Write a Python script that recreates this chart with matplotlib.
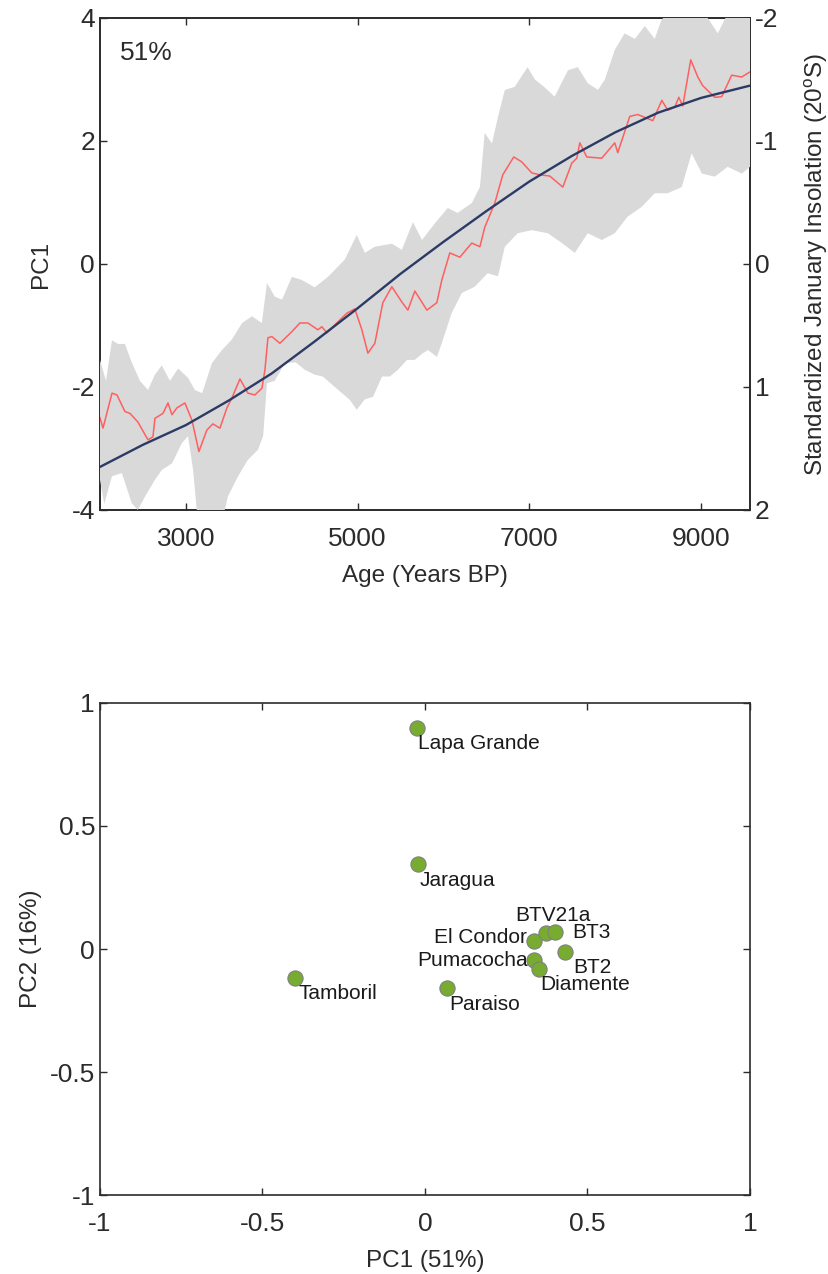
import numpy as np
import matplotlib
matplotlib.use('Agg')
import matplotlib.pyplot as plt

plt.rcParams['font.family'] = ['Liberation Sans', 'DejaVu Sans']
plt.rcParams['mathtext.fontset'] = 'custom'
plt.rcParams['mathtext.rm'] = 'Liberation Sans'
plt.rcParams['axes.unicode_minus'] = False

# --- верхний график: PC1 и инсоляция ---
# огибающие серой полосы (возраст, значение PC1)
band_hi_age = [2000, 2070, 2140, 2210, 2290, 2370, 2465, 2560, 2640, 2720, 2815, 2910, 3025, 3105,
               3190, 3305, 3420, 3535, 3655, 3770, 3885, 3945, 4035, 4120, 4235, 4350, 4500, 4655,
               4850, 4990, 5085, 5200, 5400, 5515, 5645, 5750, 5900, 6050, 6165, 6330, 6425, 6480,
               6565, 6635, 6715, 6830, 6980, 7065, 7180, 7295, 7450, 7565, 7680, 7800, 7880, 7995,
               8110, 8230, 8345, 8460, 8540, 8750, 8985, 9195, 9390, 9570]
band_hi = [-1.56, -1.9, -1.24, -1.3, -1.3, -1.6, -1.9, -2.05, -1.8, -1.65, -1.9, -1.7, -1.85, -2.05,
           -2.1, -1.61, -1.4, -1.23, -0.96, -0.85, -0.96, -0.31, -0.53, -0.58, -0.21, -0.26, -0.38, -0.21,
           0.07, 0.47, 0.18, 0.28, 0.33, 0.23, 0.68, 0.39, 0.66, 0.91, 0.83, 0.99, 1.25, 2.13,
           1.96, 2.39, 2.83, 2.88, 3.2, 3.0, 2.87, 2.72, 3.15, 3.2, 2.94, 2.83, 3.0, 3.48,
           3.75, 3.66, 3.87, 3.66, 3.97, 4.3, 4.2, 3.75, 4.3, 4.4]
band_lo_age = [2000, 2050, 2140, 2255, 2370, 2440, 2525, 2640, 2720, 2840, 2955, 3025, 3085, 3140,
               3280, 3420, 3490, 3605, 3720, 3840, 3900, 3945, 4035, 4155, 4280, 4385, 4500, 4595,
               4735, 4910, 4990, 5085, 5180, 5285, 5375, 5470, 5575, 5665, 5760, 5820, 5925, 5980,
               6095, 6215, 6365, 6515, 6635, 6715, 6865, 7030, 7215, 7380, 7530, 7680, 7845, 7995,
               8145, 8310, 8460, 8610, 8775, 8890, 9010, 9160, 9310, 9475, 9570]
band_lo = [-3.51, -3.9, -3.45, -3.4, -3.89, -4.0, -3.78, -3.51, -3.35, -3.24, -2.91, -2.8, -3.35, -4.2,
           -4.4, -4.2, -3.78, -3.46, -3.19, -3.02, -2.8, -1.94, -1.9, -1.61, -1.6, -1.72, -1.8, -1.83,
           -2.0, -2.21, -2.37, -2.2, -2.16, -1.83, -1.83, -1.72, -1.56, -1.56, -1.45, -1.4, -1.51, -1.29,
           -0.8, -0.47, -0.37, -0.15, -0.2, 0.28, 0.5, 0.55, 0.5, 0.34, 0.18, 0.5, 0.39, 0.5,
           0.77, 0.93, 1.15, 1.15, 1.25, 1.8, 1.47, 1.42, 1.58, 1.47, 1.58]

# сглаженная кривая PC1 (красная)
pc1_age = [2000, 2035, 2140, 2198, 2291, 2349, 2442, 2559, 2617, 2640, 2733, 2792, 2838, 2896, 2989,
           3071, 3152, 3245, 3315, 3397, 3478, 3536, 3630, 3723, 3804, 3886, 3921, 3956, 4002, 4095,
           4235, 4328, 4421, 4538, 4584, 4642, 4735, 4875, 4968, 5050, 5120, 5201, 5294, 5399, 5516,
           5586, 5667, 5807, 5923, 5981, 6074, 6191, 6330, 6424, 6482, 6598, 6691, 6819, 6912, 7029,
           7122, 7238, 7390, 7495, 7553, 7588, 7669, 7844, 7995, 8030, 8170, 8263, 8438, 8543, 8613,
           8694, 8741, 8787, 8880, 8962, 9019, 9159, 9240, 9357, 9473, 9590]
pc1 = [-2.5, -2.67, -2.1, -2.13, -2.4, -2.43, -2.57, -2.86, -2.81, -2.51, -2.43, -2.26, -2.45, -2.34, -2.26,
       -2.54, -3.05, -2.7, -2.6, -2.67, -2.34, -2.18, -1.87, -2.1, -2.13, -2.02, -1.72, -1.2, -1.18, -1.29,
       -1.1, -0.96, -0.96, -1.07, -1.02, -1.12, -0.99, -0.8, -0.73, -1.07, -1.45, -1.29, -0.63, -0.37, -0.62,
       -0.75, -0.44, -0.75, -0.63, -0.26, 0.18, 0.11, 0.34, 0.28, 0.6, 0.99, 1.45, 1.74, 1.66, 1.48,
       1.45, 1.43, 1.25, 1.64, 1.72, 1.97, 1.74, 1.72, 1.97, 1.81, 2.4, 2.43, 2.33, 2.66, 2.5,
       2.55, 2.71, 2.57, 3.32, 3.04, 2.9, 2.71, 2.72, 3.07, 3.04, 3.14]

# стандартизованная январская инсоляция 20°S (правая ось)
ins_age = [2000, 2250, 2500, 2750, 3000, 3250, 3500, 3750, 4000, 4500, 5000, 5500, 6000, 6500,
           7000, 7500, 8000, 8500, 9000, 9570]
ins = [1.65, 1.56, 1.47, 1.39, 1.31, 1.21, 1.11, 1.00, 0.89, 0.63, 0.36, 0.08, -0.18, -0.43,
       -0.67, -0.88, -1.07, -1.23, -1.35, -1.45]

# --- нижний график: нагрузки PCA ---
sites = ['Lapa Grande', 'Jaragua', 'Tamboril', 'Paraiso', 'El Condor', 'BTV21a', 'BT3', 'BT2',
         'Pumacocha', 'Diamente']
pc1_load = [-0.025, -0.02, -0.40, 0.068, 0.335, 0.372, 0.40, 0.43, 0.335, 0.35]
pc2_load = [0.90, 0.345, -0.118, -0.159, 0.033, 0.065, 0.069, -0.012, -0.045, -0.08]

# смещения подписей в пикселях
label_off = {'Lapa Grande': (1, -16, 'left'), 'Jaragua': (1, -16, 'left'), 'Tamboril': (4, -15, 'left'),
             'Paraiso': (2, -16, 'left'), 'El Condor': (-7, 3, 'right'), 'BTV21a': (-31, 18, 'left'),
             'BT3': (17, 0, 'left'), 'BT2': (9, -16, 'left'), 'Pumacocha': (-6, 0, 'right'),
             'Diamente': (2, -16, 'left')}

tc = '#2b2b2b'
tick_fs = 19
lab_fs = 17.5

fig = plt.figure(figsize=(8.29, 12.74), dpi=100)

ax = fig.add_axes([0.1206, 0.5997, 0.7841, 0.3862])
ax2 = ax.twinx()
ax.set_zorder(ax2.get_zorder() + 1)
ax.patch.set_visible(False)

ax.fill(np.concatenate([band_hi_age, band_lo_age[::-1]]), np.concatenate([band_hi, band_lo[::-1]]),
        color='#d9d9d9', lw=0, zorder=3)
ax.plot(pc1_age, pc1, color='#ff5f5f', lw=1.1, zorder=4)
ax.plot(ins_age, ins, color='#2c3b66', lw=1.7, zorder=5, transform=ax2.transData)

ax.set_xlim(2000, 9570)
ax.set_ylim(-4, 4)
ax.set_xticks([3000, 5000, 7000, 9000])
ax.set_yticks([-4, -2, 0, 2, 4])
ax2.set_ylim(2, -2)
ax2.set_yticks([-2, -1, 0, 1, 2])

ax.tick_params(direction='in', length=5, top=True, labelsize=tick_fs, colors=tc, width=1)
ax.tick_params(axis='x', pad=12)
ax2.tick_params(direction='in', length=5, labelsize=tick_fs, colors=tc, width=1)
for a in (ax, ax2):
    for s in a.spines.values():
        s.set_color(tc)
        s.set_linewidth(1.2)

ax.set_xlabel('Age (Years BP)', fontsize=lab_fs, color=tc, labelpad=10)
ax.set_ylabel('PC1', fontsize=lab_fs, color=tc, labelpad=14)
ax2.set_ylabel('Standardized January Insolation (20$^{\\mathrm{o}}$S)', fontsize=lab_fs, color=tc, labelpad=17)
ax.text(0.031, 0.929, '51%', transform=ax.transAxes, fontsize=tick_fs, color=tc, va='center', zorder=6)

# нижний график
bx = fig.add_axes([0.1206, 0.0620, 0.7841, 0.3862])
bx.scatter(pc1_load, pc2_load, s=120, c='#77ac30', edgecolors='#808080', linewidths=0.8, zorder=3)
for name, x, y in zip(sites, pc1_load, pc2_load):
    dx, dy, ha = label_off[name]
    bx.annotate(name, (x, y), xytext=(dx, dy), textcoords='offset pixels', ha=ha, va='center',
                fontsize=15, color='#1a1a1a', zorder=4)

bx.set_xlim(-1, 1)
bx.set_ylim(-1, 1)
bx.set_xticks([-1, -0.5, 0, 0.5, 1])
bx.set_yticks([-1, -0.5, 0, 0.5, 1])
bx.set_xticklabels(['-1', '-0.5', '0', '0.5', '1'])
bx.set_yticklabels(['-1', '-0.5', '0', '0.5', '1'])
bx.tick_params(direction='in', length=5, top=True, right=True, labelsize=tick_fs, colors=tc, width=1)
bx.tick_params(axis='x', pad=12)
for s in bx.spines.values():
    s.set_color(tc)
    s.set_linewidth(1.2)
bx.set_xlabel('PC1 (51%)', fontsize=lab_fs, color=tc, labelpad=10)
bx.set_ylabel('PC2 (16%)', fontsize=lab_fs, color=tc, labelpad=6)

fig.savefig('out.png', dpi=100, facecolor='white')
